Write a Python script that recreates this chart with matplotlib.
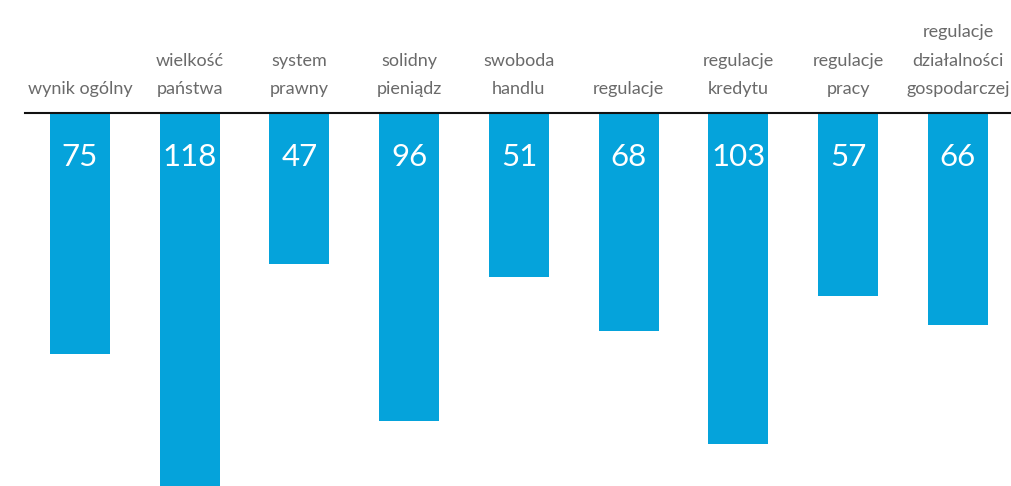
import matplotlib
matplotlib.use("Agg")
import matplotlib.pyplot as plt

categories = ["wynik ogólny", "wielkość\npaństwa", "system\nprawny", "solidny\npieniądz",
              "swoboda\nhandlu", "regulacje", "regulacje\nkredytu", "regulacje\npracy",
              "regulacje\ndziałalności\ngospodarczej"]
values = [75, 118, 47, 96, 51, 68, 103, 57, 66]

bar_color = "#05A3DB"
text_color = "#6A6A6A"

fig = plt.figure(figsize=(10.11, 4.86), dpi=100)
top_px = 113.5
ax = fig.add_axes([25/1011, 0, 986/1011, (486-top_px)/486])
x = list(range(len(values)))
ax.bar(x, values, width=0.547, color=bar_color)
ax.set_xlim(-0.5, 8.483)
ax.set_ylim(116.2, 0)
for s in ["left", "right", "bottom"]:
    ax.spines[s].set_visible(False)
ax.spines["top"].set_linewidth(1.5)
ax.spines["top"].set_color("#111111")
ax.set_xticks([])
ax.set_yticks([])

for i, v in zip(x, values):
    ax.annotate(str(v), xy=(i, 0), xytext=(0, -31.3), textcoords="offset points",
                ha="center", va="center", color="white", fontsize=22.5,
                family="Lato", fontweight="normal")

for i, c in zip(x, categories):
    ax.annotate(c, xy=(i, 1), xycoords=("data", "axes fraction"),
                xytext=(0, 14), textcoords="offset points",
                ha="center", va="baseline", color=text_color, fontsize=13,
                family="Lato", fontweight="normal", linespacing=1.95,
                annotation_clip=False)

fig.savefig("out.png", dpi=100)
